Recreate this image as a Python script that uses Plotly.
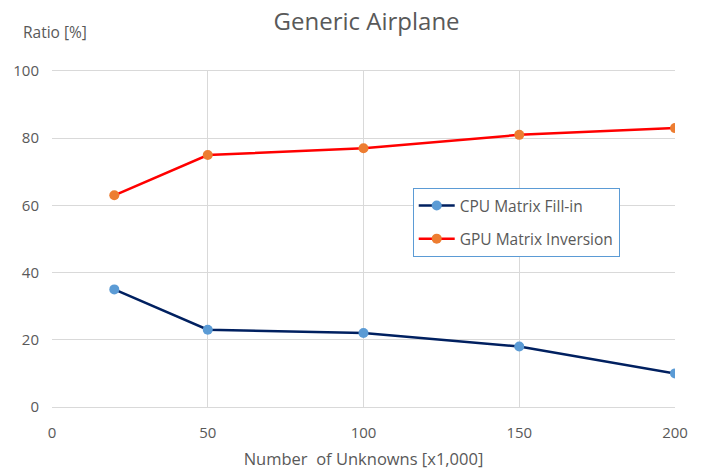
import plotly.graph_objects as go

unknowns = [20, 50, 100, 150, 200]
cpu_fill = [35, 23, 22, 18, 10]
gpu_inv = [63, 75, 77, 81, 83]
x_ticks = [0, 50, 100, 150, 200]
y_ticks = [0, 20, 40, 60, 80, 100]

FONT = "Open Sans, Noto Sans, sans-serif"
GRAY = "#595959"

fig = go.Figure()
fig.add_trace(go.Scatter(
    x=unknowns, y=cpu_fill, mode="lines+markers", name="CPU Matrix Fill-in",
    legendgroup="cpu",
    line=dict(color="#002060", width=2.5),
    marker=dict(color="#5B9BD5", size=10),
))
fig.add_trace(go.Scatter(
    x=unknowns, y=gpu_inv, mode="lines+markers", name="GPU Matrix Inversion",
    legendgroup="gpu",
    line=dict(color="#FF0000", width=2.5),
    marker=dict(color="#ED7D31", size=10),
))

fig.update_layout(
    width=705, height=470,
    margin=dict(l=52, r=30, t=71, b=63, autoexpand=False),
    paper_bgcolor="white", plot_bgcolor="white",
    font=dict(family=FONT, color=GRAY, size=14),
    title=dict(text="Generic Airplane", x=0.52, xanchor="center", y=0.955, yanchor="middle",
               font=dict(size=24, color=GRAY, family=FONT)),
    legend=dict(x=0.579, y=0.652, xanchor="left", yanchor="top",
                bgcolor="white", bordercolor="#5B9BD5", borderwidth=1,
                font=dict(size=15.5, color=GRAY, family=FONT),
                tracegroupgap=10, itemwidth=36),
    showlegend=True,
)
fig.update_xaxes(
    range=[0, 200], tickvals=x_ticks, ticktext=[str(v) for v in x_ticks],
    showgrid=True, gridcolor="#D9D9D9", gridwidth=1,
    zeroline=False, showline=True, linecolor="#D9D9D9", mirror=True,
    ticks="", ticklabelstandoff=12, automargin=False,
    title=dict(text="Number  of Unknowns [x1,000]", font=dict(size=16.5, color=GRAY), standoff=16),
    tickfont=dict(size=15, color=GRAY),
)
fig.update_yaxes(
    range=[0, 100], tickvals=y_ticks,
    showgrid=True, gridcolor="#D9D9D9", gridwidth=1,
    zeroline=False, showline=False,
    ticks="", ticklabelstandoff=12, automargin=False,
    tickfont=dict(size=15, color=GRAY),
)
fig.add_annotation(
    text="Ratio [%]", xref="paper", yref="paper", x=-0.05, y=1.115,
    xanchor="left", yanchor="middle", showarrow=False,
    font=dict(size=15.5, color=GRAY, family=FONT),
)

fig.write_html("out.html")
